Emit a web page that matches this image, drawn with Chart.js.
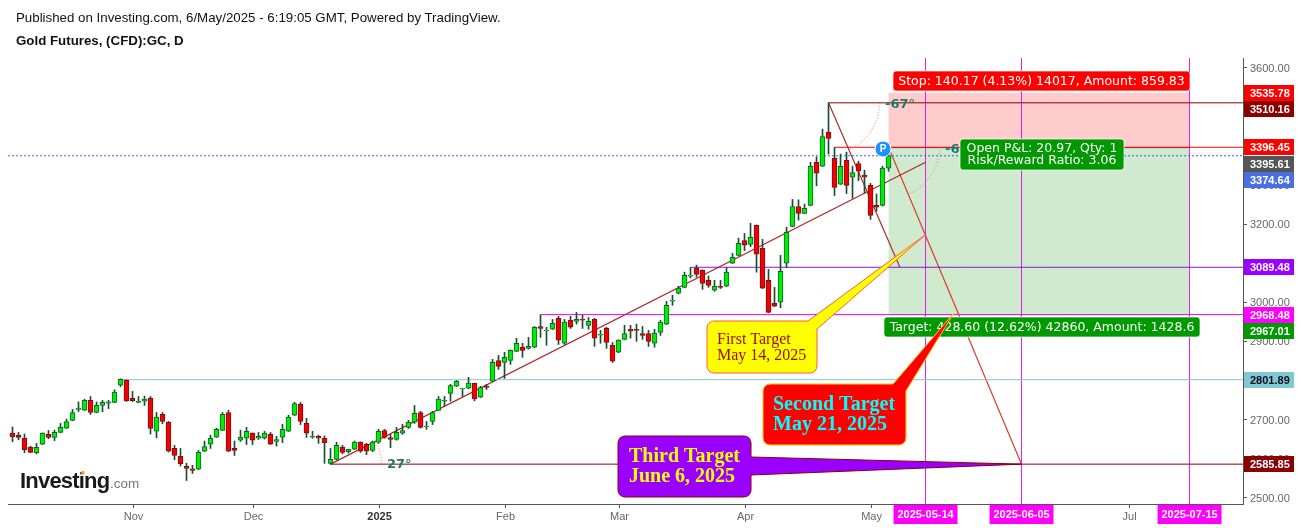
<!DOCTYPE html>
<html>
<head>
<meta charset="utf-8">
<title>Gold Futures</title>
<script src="https://cdn.jsdelivr.net/npm/chart.js@4"></script>
<style>
  html, body { margin: 0; background: #fff; }
  #wrap { position: relative; width: 1301px; height: 528px; overflow: hidden; }
  canvas { position: absolute; left: 0; top: 0; }
  .head { position: absolute; left: 16px; font: 13.3px "Liberation Sans", Arial, sans-serif; color: #111; white-space: nowrap; }
</style>
</head>
<body>
<div id="wrap">
  <canvas id="goldChart" width="1301" height="528"></canvas>
  <div class="head" style="top:10px">Published on Investing.com, 6/May/2025 - 6:19:05 GMT, Powered by TradingView.</div>
  <div class="head" style="top:33px;font-weight:bold">Gold Futures, (CFD):GC, D</div>
</div>
<script>
// daily candles, first bar is mid Oct 2024
const opens = [
  2665,2660,2652,2629,2615,2637,2662,2654,2667,2678,
  2698,2726,2724,2749,2718,2736,2742,2744,2788,2800,
  2754,2744,2747,2754,2670,2713,2693,2626,2606,2580,
  2574,2573,2619,2637,2655,2672,2718,2626,2647,2652,
  2665,2652,2652,2662,2644,2655,2670,2711,2739,2690,
  2655,2657,2652,2588,2598,2629,2618,2624,2642,2637,
  2621,2642,2672,2654,2649,2665,2680,2693,2718,2682,
  2695,2723,2747,2767,2785,2779,2780,2793,2757,2785,
  2798,2851,2846,2851,2874,2885,2882,2885,2938,2927,
  2931,2959,2895,2954,2951,2956,2941,2956,2916,2933,
  2890,2872,2905,2931,2931,2920,2920,2895,2923,2944,
  3003,3023,3038,3067,3087,3082,3056,3031,3041,3041,
  3100,3120,3158,3148,3197,3138,3056,2997,3000,3100,
  3194,3245,3227,3248,3358,3348,3435,3368,3302,3363,
  3320,3355,3325,3299,3248,3248,3343
];
const highs = [
  2681,2667,2663,2632,2639,2666,2672,2673,2690,2701,
  2726,2745,2752,2759,2745,2749,2749,2776,2804,2802,
  2772,2759,2760,2759,2718,2718,2695,2634,2626,2588,
  2583,2621,2645,2660,2678,2718,2724,2645,2673,2680,
  2666,2667,2670,2667,2657,2688,2711,2744,2744,2703,
  2670,2660,2658,2626,2642,2634,2624,2645,2643,2639,
  2645,2675,2675,2662,2680,2688,2698,2736,2721,2695,
  2721,2759,2759,2790,2800,2780,2808,2793,2785,2790,
  2854,2864,2872,2878,2908,2895,2910,2938,2968,2936,
  2956,2964,2956,2964,2974,2967,2961,2959,2928,2936,
  2897,2904,2941,2941,2944,2938,2928,2931,2954,3002,
  3018,3041,3077,3089,3095,3083,3067,3056,3056,3089,
  3125,3164,3176,3202,3198,3161,3084,3038,3120,3192,
  3263,3262,3251,3358,3372,3443,3510,3396,3379,3384,
  3348,3361,3338,3304,3277,3348,3378
];
const lows = [
  2643,2648,2615,2615,2612,2636,2651,2646,2666,2677,
  2697,2720,2723,2713,2717,2720,2728,2743,2784,2746,
  2746,2743,2736,2663,2653,2689,2617,2597,2581,2544,
  2562,2572,2618,2626,2654,2672,2618,2608,2644,2636,
  2636,2649,2650,2636,2632,2641,2669,2710,2687,2654,
  2652,2639,2588,2586,2597,2612,2614,2623,2616,2610,
  2618,2639,2652,2628,2647,2662,2677,2690,2678,2675,
  2687,2723,2734,2747,2784,2759,2779,2748,2756,2777,
  2797,2828,2805,2841,2874,2859,2880,2884,2910,2890,
  2930,2892,2892,2933,2944,2933,2931,2887,2895,2882,
  2846,2871,2904,2908,2900,2905,2887,2885,2915,2943,
  2992,3021,3037,3062,3064,3033,3038,3028,3035,3040,
  3099,3119,3132,3142,3077,3035,2973,2989,2986,3089,
  3193,3210,3227,3247,3298,3347,3379,3273,3301,3278,
  3266,3311,3279,3212,3233,3246,3335
];
const closes = [
  2656,2654,2623,2616,2629,2665,2654,2667,2680,2695,
  2718,2729,2749,2718,2736,2744,2745,2770,2803,2748,
  2748,2747,2752,2677,2706,2695,2619,2608,2587,2575,
  2570,2616,2631,2652,2675,2713,2619,2621,2655,2670,
  2647,2657,2665,2637,2649,2675,2706,2741,2695,2665,
  2657,2652,2641,2598,2634,2616,2624,2642,2619,2619,
  2642,2670,2654,2649,2667,2672,2693,2716,2680,2683,
  2718,2752,2749,2787,2798,2780,2793,2753,2782,2782,
  2846,2836,2859,2877,2895,2877,2887,2936,2933,2929,
  2946,2903,2949,2936,2956,2954,2951,2908,2918,2897,
  2849,2903,2920,2926,2928,2915,2900,2921,2949,2992,
  3005,3036,3069,3069,3071,3048,3043,3041,3038,3077,
  3115,3151,3146,3166,3123,3036,2974,2990,3079,3179,
  3245,3227,3240,3348,3330,3424,3419,3294,3348,3299,
  3332,3335,3320,3222,3243,3343,3375
];

// axis
const priceTicks = [2500,2600,2700,2800,2900,3000,3100,3200,3300,3400,3500,3600];
const monthBars = [20.17,40.17,61.17,82.17,101.17,122.17,143.17,186.17];
const monthLabels = ['Nov','Dec','2025','Feb','Mar','Apr','May','Jul'];
const dateBars = [152.17,168.17,196.17];
const dateLabels = ['2025-05-14','2025-06-05','2025-07-15'];

// horizontal levels: price, bar they start at
const levelPrices = [3510.16,3396.45,3089.48,2968.48,2801.89,2585.85];
const levelStarts = [136,137,113,88,18,53];
const lastPrice = 3374.64;

// long position box
const stopPrice = 3535.78;
const entryPrice = 3395.61;
const targetPrice = 2967.01;
const boxBars = [145.97,196.17];

// trend lines: [bar, price] pairs
const upTrend = [[53,2585.85],[152.17,3358]];
const downFirst = [[136,3510.16],[147.9,3089.48]];
const downSecond = [[146,3396.45],[168.17,2585.85]];

// right hand price tags
const tagPrices = [3535.78,3510.16,3396.45,3395.61,3374.64,3089.48,2968.48,2967.01,2801.89,2585.85];
const tagLabels = tagPrices.map(p => p.toFixed(2));

const barIdx = opens.map((_, i) => i);
const X_MIN = -0.75, X_MAX = 205.08;
const GREEN = '#00ee00', RED = '#f50000', WICK = '#174f33';

function lineSet(pts, color, width, extra) {
  return Object.assign({
    type: 'line',
    data: pts.map(p => ({x: p[0], y: p[1]})),
    borderColor: color,
    borderWidth: width,
    pointRadius: 0,
    fill: false,
    tension: 0,
    order: 10
  }, extra || {});
}

const datasets = [
  // stop and target zones
  lineSet([[boxBars[0],stopPrice],[boxBars[1],stopPrice]], 'rgba(0,0,0,0)', 0,
    {fill: {value: entryPrice}, backgroundColor: 'rgba(255,0,0,0.2)', order: 30}),
  lineSet([[boxBars[0],entryPrice],[boxBars[1],entryPrice]], 'rgba(0,0,0,0)', 0,
    {fill: {value: targetPrice}, backgroundColor: 'rgba(20,150,20,0.2)', order: 30}),
  // wicks then bodies, both sit on top of the drawings
  {
    type: 'bar',
    data: barIdx.map(i => ({x: i, y: [lows[i], highs[i]]})),
    backgroundColor: WICK,
    borderWidth: 0,
    grouped: false,
    barPercentage: 1,
    categoryPercentage: 1,
    maxBarThickness: 1,
    order: 5
  },
  {
    type: 'bar',
    data: barIdx.map(i => ({x: i, y: [opens[i], closes[i]]})),
    backgroundColor: barIdx.map(i => closes[i] >= opens[i] ? GREEN : RED),
    borderColor: barIdx.map(i => closes[i] >= opens[i] ? '#155c33' : '#6e1414'),
    borderWidth: 1,
    borderSkipped: false,
    grouped: false,
    barPercentage: 1,
    categoryPercentage: 1,
    maxBarThickness: 5,
    order: 4
  },
  lineSet([[X_MIN,lastPrice],[X_MAX,lastPrice]], '#3a5fd8', 1, {borderDash: [2,2]})
];

// levels
const levelColors = ['#8b0000','#ff0000','#8a14d8','#ff00ff','#7fc8d8','#8b0000'];
levelPrices.forEach((p, i) => {
  datasets.push(lineSet([[levelStarts[i],p],[X_MAX,p]], levelColors[i], 1));
});
datasets.push(lineSet([[boxBars[0],entryPrice],[boxBars[1],entryPrice]], '#555555', 1));
// date lines
dateBars.forEach(b => {
  datasets.push(lineSet([[b,2483.9],[b,3624.8]], '#e61ee6', 1));
});
// trend lines
datasets.push(lineSet(upTrend, '#b02a2a', 1.2));
datasets.push(lineSet(downFirst, '#b02a2a', 1.2));
datasets.push(lineSet(downSecond, '#dc3c28', 1.2));

// callouts: tip goes through the scales, box is placed in px
const callouts = [
  {lines: ['First Target','May 14, 2025'], tip: [152.1,3172], fill: '#ffff00', stroke: '#ff5a3c', color: '#9c0a0a',
   font: '16px "Liberation Serif", serif', box: [707,321,110,52], base: [[808,321],[817,329]], text: [717,344,360]},
  {lines: ['Second Target','May 21, 2025'], tip: [156.9,2972.5], fill: '#ff0000', stroke: '#ffd000', color: '#00ffff',
   font: 'bold 20px "Liberation Serif", serif', box: [763,384,143,61], base: [[893,384],[906,391]], text: [773,410,430]},
  {lines: ['Third Target','June 6, 2025'], tip: [168.17,2585.85], fill: '#9900ff', stroke: '#8b0000', color: '#ffff00',
   font: 'bold 20px "Liberation Serif", serif', box: [618,436,133,61], base: [[751,457],[751,475]], text: [629,462,482]}
];

const tagColors = ['#ff0000','#8b0000','#ff0000','#555555','#4a6fe0','#9900ff','#ff00ff','#009900','#7fc8d8','#8b0000'];
const tagInk = ['#fff','#fff','#fff','#fff','#fff','#fff','#fff','#fff','#111','#fff'];
const tagShift = [0,6,0,16,24,0,0,16,0,0];

function polyRound(ctx, pts) {
  // pts: [x, y, radius]
  const n = pts.length;
  const a = pts[n-1], b = pts[0];
  ctx.beginPath();
  ctx.moveTo((a[0]+b[0])/2, (a[1]+b[1])/2);
  for (let i = 0; i < n; i++) {
    const p = pts[i], q = pts[(i+1)%n];
    ctx.arcTo(p[0], p[1], q[0], q[1], p[2]);
  }
  ctx.closePath();
}

function drawCallout(ctx, c, sx, sy) {
  const [x,y,w,h] = c.box, r = 7;
  const tip = [sx.getPixelForValue(c.tip[0]), sy.getPixelForValue(c.tip[1]), 0];
  const b1 = [c.base[0][0], c.base[0][1], 0], b2 = [c.base[1][0], c.base[1][1], 0];
  let pts;
  if (b1[0] === x + w) {
    pts = [[x,y,r],[x+w,y,r],b1,tip,b2,[x+w,y+h,r],[x,y+h,r]];
  } else {
    pts = [[x,y,r],b1,tip,b2,[x+w,y+h,r],[x,y+h,r]];
  }
  polyRound(ctx, pts);
  ctx.fillStyle = c.fill;
  ctx.fill();
  ctx.strokeStyle = c.stroke;
  ctx.lineWidth = 1;
  ctx.stroke();
  ctx.fillStyle = c.color;
  ctx.font = c.font;
  ctx.textAlign = 'left';
  ctx.textBaseline = 'alphabetic';
  ctx.fillText(c.lines[0], c.text[0], c.text[1]);
  ctx.fillText(c.lines[1], c.text[0], c.text[2]);
}

function infoBox(ctx, x, y, w, h, fill, lines, cx, ys) {
  ctx.beginPath();
  ctx.roundRect(x, y, w, h, 3);
  ctx.fillStyle = fill;
  ctx.fill();
  ctx.strokeStyle = 'rgba(255,255,255,0.7)';
  ctx.lineWidth = 1;
  ctx.stroke();
  ctx.fillStyle = '#fff';
  ctx.font = '12.5px "DejaVu Sans", sans-serif';
  ctx.textAlign = 'center';
  ctx.textBaseline = 'middle';
  lines.forEach((t, i) => ctx.fillText(t, cx, ys[i]));
}

function angleMark(ctx, px, py, from, to, label, lx, ly) {
  ctx.save();
  ctx.beginPath();
  ctx.arc(px, py, 51, from, to, to < from);
  ctx.setLineDash([1,2]);
  ctx.strokeStyle = '#e0706a';
  ctx.lineWidth = 1;
  ctx.stroke();
  ctx.restore();
  ctx.fillStyle = '#1f7a6b';
  ctx.font = 'bold 13px "DejaVu Sans", sans-serif';
  ctx.textAlign = 'left';
  ctx.textBaseline = 'middle';
  ctx.fillText(label, lx, ly);
}

const overlay = {
  id: 'overlay',
  afterDraw(chart) {
    const ctx = chart.ctx, sx = chart.scales.x, sy = chart.scales.y;
    ctx.save();

    // angle arcs
    const d2r = Math.PI / 180;
    angleMark(ctx, sx.getPixelForValue(upTrend[0][0]), sy.getPixelForValue(upTrend[0][1]), 0, -27*d2r, '27°', 387, 465);
    angleMark(ctx, sx.getPixelForValue(downFirst[0][0]), sy.getPixelForValue(downFirst[0][1]), 0, 67*d2r, '-67°', 885, 105);
    angleMark(ctx, sx.getPixelForValue(downSecond[0][0]), sy.getPixelForValue(downSecond[0][1]), 0, 67*d2r, '-67°', 945, 150);

    // position labels
    infoBox(ctx, 893, 71, 297, 20, '#ff0000', ['Stop: 140.17 (4.13%) 14017, Amount: 859.83'], 1041.5, [81.5]);
    infoBox(ctx, 884, 317, 316, 20, '#009900', ['Target: 428.60 (12.62%) 42860, Amount: 1428.6'], 1042, [327.5]);
    infoBox(ctx, 960, 139, 164, 31, '#009900', ['Open P&L: 20.97, Qty: 1','Risk/Reward Ratio: 3.06'], 1042, [148.5,160.5]);

    // position marker
    ctx.beginPath();
    ctx.arc(883, 149, 8, 0, Math.PI*2);
    ctx.fillStyle = '#1e90ff';
    ctx.fill();
    ctx.strokeStyle = '#fff';
    ctx.lineWidth = 1;
    ctx.stroke();
    ctx.fillStyle = '#fff';
    ctx.font = 'bold 10px "Liberation Sans", sans-serif';
    ctx.textAlign = 'center';
    ctx.textBaseline = 'middle';
    ctx.fillText('P', 883, 149);

    callouts.forEach(c => drawCallout(ctx, c, sx, sy));

    // logo
    ctx.textAlign = 'left';
    ctx.textBaseline = 'alphabetic';
    ctx.fillStyle = '#1a1a1a';
    ctx.font = 'bold 22px "Liberation Sans", sans-serif';
    ctx.letterSpacing = '-0.8px';
    ctx.fillText('Investing', 20, 488);
    ctx.letterSpacing = '0px';
    ctx.fillStyle = '#777';
    ctx.font = '13.5px "Liberation Sans", sans-serif';
    ctx.fillText('.com', 110, 488);
    ctx.beginPath();
    ctx.arc(83, 472.5, 1.8, 0, Math.PI*2);
    ctx.fillStyle = '#f5a623';
    ctx.fill();

    // price tags
    const axisX = sx.right;
    tagPrices.forEach((p, i) => {
      const y = Math.round(sy.getPixelForValue(p)) + tagShift[i];
      ctx.fillStyle = tagColors[i];
      ctx.fillRect(axisX + 1, y - 8, 50, 16);
      ctx.fillStyle = tagInk[i];
      ctx.font = 'bold 11px "Liberation Sans", sans-serif';
      ctx.textAlign = 'left';
      ctx.textBaseline = 'middle';
      ctx.fillText(tagLabels[i], axisX + 7, y + 0.5);
    });

    // date tags
    dateBars.forEach((b, i) => {
      const x = sx.getPixelForValue(b);
      ctx.fillStyle = '#ff00ff';
      ctx.fillRect(x - 32, sx.top + 1, 64, 19);
      ctx.fillStyle = '#fff';
      ctx.font = 'bold 11px "Liberation Sans", sans-serif';
      ctx.textAlign = 'center';
      ctx.textBaseline = 'middle';
      ctx.fillText(dateLabels[i], x, sx.top + 11);
    });
    ctx.restore();
  }
};

window.onload = function() {
  const ctx = document.getElementById('goldChart').getContext('2d');
  new Chart(ctx, {
    type: 'bar',
    data: {datasets: datasets},
    plugins: [overlay],
    options: {
      responsive: false,
      animation: false,
      layout: {padding: {left: 8, top: 58, right: 0, bottom: 0}},
      plugins: {legend: {display: false}, tooltip: {enabled: false}},
      scales: {
        x: {
          type: 'linear',
          offset: false,
          min: X_MIN,
          max: X_MAX,
          afterFit: s => { s.height = 24; },
          afterBuildTicks: s => { s.ticks = monthBars.map(v => ({value: v})); },
          grid: {drawOnChartArea: false, offset: false, color: '#555', tickLength: 4},
          border: {color: '#555', width: 1},
          ticks: {
            autoSkip: false,
            maxRotation: 0,
            padding: 2,
            color: ctx => ctx.tick && monthLabels[monthBars.indexOf(ctx.tick.value)] === '2025' ? '#333' : '#666',
            font: ctx => ({
              family: '"Liberation Sans", Arial, sans-serif',
              size: 11,
              weight: ctx.tick && monthLabels[monthBars.indexOf(ctx.tick.value)] === '2025' ? 'bold' : 'normal'
            }),
            callback: v => monthLabels[monthBars.indexOf(v)]
          }
        },
        y: {
          position: 'right',
          min: 2483.9,
          max: 3624.8,
          afterFit: s => { s.width = 58; },
          afterBuildTicks: s => { s.ticks = priceTicks.map(v => ({value: v})); },
          grid: {drawOnChartArea: false, color: '#555', tickLength: 4},
          border: {color: '#555', width: 1},
          ticks: {
            crossAlign: 'near',
            padding: 3,
            labelOffset: 1,
            color: '#666',
            font: {family: '"Liberation Sans", Arial, sans-serif', size: 11},
            callback: v => v.toFixed(2)
          }
        }
      }
    }
  });
};
</script>
</body>
</html>
